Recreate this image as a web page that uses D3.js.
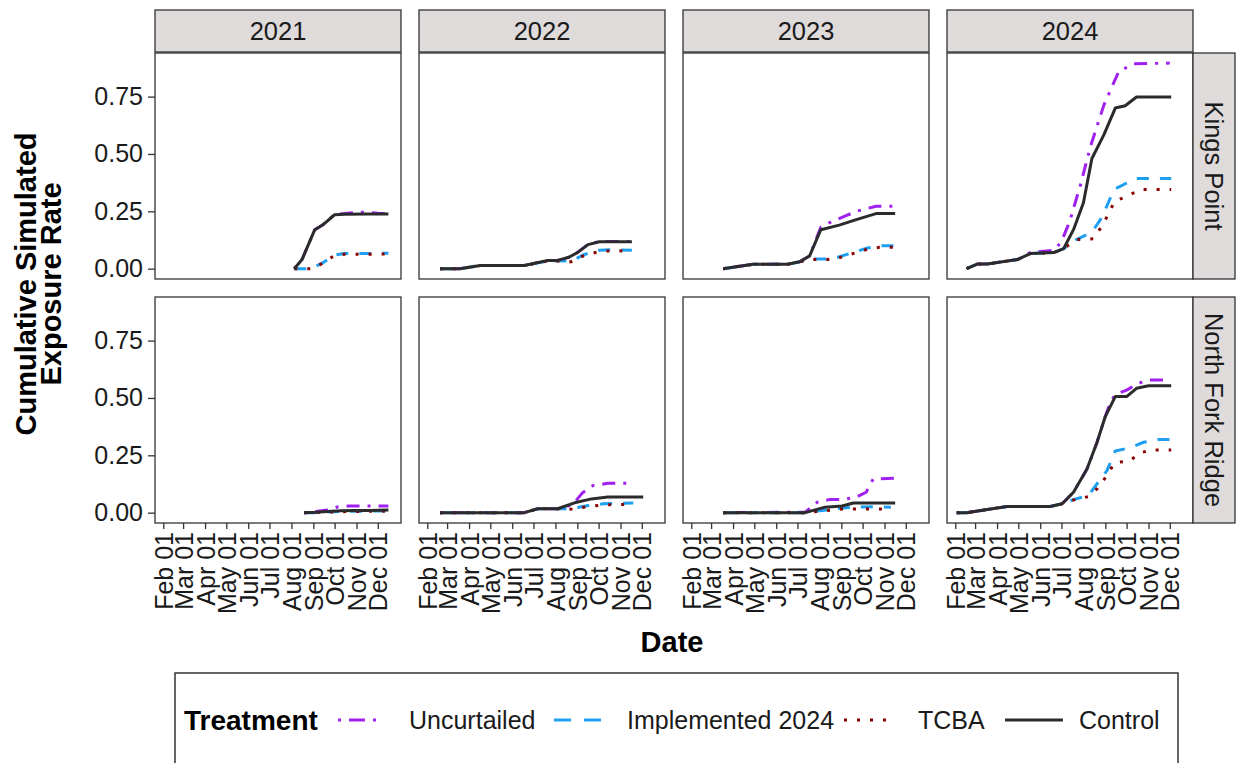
<!DOCTYPE html>
<html><head><meta charset="utf-8">
<script src="https://cdn.jsdelivr.net/npm/d3@7"></script>
<style>body{margin:0;background:#fff}svg{display:block;font-family:"Liberation Sans",Arial,sans-serif}</style>
</head><body><svg id="c" width="1238" height="763"></svg>
<script>
// ---- categories ----
const years = ["2021", "2022", "2023", "2024"];
const sites = ["Kings Point", "North Fork Ridge"];
const treatments = ["Uncurtailed", "Implemented 2024", "TCBA", "Control"];
const tickLabels = ["Feb 01","Mar 01","Apr 01","May 01","Jun 01","Jul 01","Aug 01","Sep 01","Oct 01","Nov 01","Dec 01"];
const yTicks = [0, 0.25, 0.5, 0.75];

// ---- series values [month-day, cumulative rate] ----
// Kings Point 2021
const kp2021Uncurtailed = [["08-05",0],["08-16",0.04],["09-03",0.17],["09-14",0.19],["10-01",0.237],["10-15",0.24],["11-01",0.245],["11-15",0.246],["12-01",0.242],["12-16",0.24]];
const kp2021Implemented = [["08-05",0],["08-29",0],["09-14",0.025],["10-01",0.06],["10-15",0.066],["11-15",0.066],["12-16",0.067]];
const kp2021TCBA        = [["08-05",0],["08-29",0],["09-14",0.023],["10-01",0.058],["10-15",0.063],["11-15",0.063],["12-16",0.064]];
const kp2021Control     = [["08-05",0],["08-16",0.04],["09-03",0.17],["09-14",0.19],["10-01",0.235],["10-15",0.237],["11-15",0.238],["12-16",0.238]];
// Kings Point 2022
const kp2022Uncurtailed = [["02-19",0],["03-19",0],["04-17",0.014],["06-18",0.014],["07-21",0.036],["08-04",0.036],["08-20",0.05],["09-01",0.07],["09-16",0.106],["10-02",0.118],["11-17",0.118]];
const kp2022Implemented = [["02-19",0],["03-19",0],["04-17",0.014],["06-18",0.014],["07-21",0.034],["08-04",0.034],["08-23",0.033],["09-11",0.062],["10-02",0.08],["10-20",0.083],["11-17",0.08]];
const kp2022TCBA        = [["02-19",0],["03-19",0],["04-17",0.014],["06-18",0.014],["07-21",0.033],["08-04",0.033],["08-23",0.03],["09-11",0.058],["10-02",0.075],["10-20",0.078],["11-17",0.077]];
const kp2022Control     = [["02-19",0],["03-19",0],["04-17",0.014],["06-18",0.014],["07-21",0.036],["08-04",0.036],["08-20",0.05],["09-01",0.07],["09-16",0.105],["10-02",0.117],["11-17",0.117]];
// Kings Point 2023
const kp2023Uncurtailed = [["03-18",0],["04-29",0.019],["06-17",0.019],["07-04",0.03],["07-18",0.055],["08-03",0.18],["08-15",0.2],["09-06",0.229],["09-22",0.25],["10-20",0.272],["11-16",0.272]];
const kp2023Implemented = [["03-18",0],["04-29",0.019],["06-17",0.019],["07-04",0.03],["07-20",0.042],["08-13",0.042],["08-27",0.05],["09-22",0.075],["10-08",0.09],["10-25",0.1],["11-16",0.1]];
const kp2023TCBA        = [["03-18",0],["04-29",0.019],["06-17",0.019],["07-04",0.03],["07-20",0.04],["08-13",0.04],["08-27",0.046],["09-22",0.07],["10-08",0.085],["10-25",0.093],["11-16",0.093]];
const kp2023Control     = [["03-18",0],["04-29",0.019],["06-17",0.019],["07-04",0.03],["07-18",0.055],["08-03",0.17],["08-29",0.19],["09-22",0.214],["10-20",0.24],["11-16",0.24]];
// Kings Point 2024
const kp2024Uncurtailed = [["02-17",0],["03-04",0.02],["03-18",0.02],["04-30",0.04],["05-18",0.07],["06-20",0.08],["06-30",0.113],["07-12",0.2],["07-28",0.367],["08-11",0.533],["08-30",0.714],["09-20",0.86],["10-11",0.893],["12-01",0.896]];
const kp2024Implemented = [["02-17",0],["03-04",0.02],["03-18",0.02],["04-30",0.04],["05-18",0.066],["06-20",0.07],["07-04",0.087],["07-22",0.127],["08-13",0.159],["08-25",0.214],["09-03",0.272],["09-13",0.345],["09-27",0.367],["10-15",0.393],["12-03",0.393]];
const kp2024TCBA        = [["02-17",0],["03-04",0.02],["03-18",0.02],["04-30",0.04],["05-18",0.066],["06-20",0.07],["07-04",0.087],["07-22",0.127],["08-15",0.13],["08-27",0.185],["09-05",0.236],["09-14",0.294],["10-02",0.316],["10-20",0.345],["12-03",0.345]];
const kp2024Control     = [["02-17",0],["03-04",0.02],["03-18",0.02],["04-30",0.04],["05-18",0.066],["06-20",0.07],["07-04",0.087],["07-18",0.17],["08-01",0.287],["08-13",0.48],["08-30",0.584],["09-15",0.70],["09-29",0.71],["10-15",0.748],["12-03",0.748]];
// North Fork Ridge 2021
const nf2021Uncurtailed = [["08-19",0],["09-05",0.005],["09-20",0.012],["10-05",0.025],["10-20",0.029],["11-20",0.029],["12-16",0.029]];
const nf2021Implemented = [["08-19",0],["09-05",0],["09-20",0.003],["10-20",0.006],["12-16",0.008]];
const nf2021TCBA        = [["08-19",0],["09-20",0.002],["10-20",0.005],["12-16",0.007]];
const nf2021Control     = [["08-19",0],["09-05",0.002],["09-20",0.005],["10-10",0.008],["10-30",0.01],["11-20",0.01],["12-16",0.012]];
// North Fork Ridge 2022
const nf2022Uncurtailed = [["02-19",0],["06-18",0],["07-07",0.017],["08-04",0.017],["08-20",0.03],["08-28",0.045],["09-08",0.086],["09-23",0.118],["10-14",0.128],["11-19",0.128]];
const nf2022Implemented = [["02-19",0],["06-18",0],["07-07",0.017],["08-04",0.017],["08-20",0.017],["09-17",0.031],["10-08",0.039],["11-19",0.042]];
const nf2022TCBA        = [["02-19",0],["06-18",0],["07-07",0.017],["08-04",0.017],["08-20",0.014],["09-17",0.027],["10-08",0.034],["11-19",0.036]];
const nf2022Control     = [["02-19",0],["06-18",0],["07-07",0.017],["08-04",0.017],["08-28",0.043],["09-21",0.06],["10-14",0.068],["12-03",0.068]];
// North Fork Ridge 2023
const nf2023Uncurtailed = [["03-18",0],["07-12",0.002],["07-29",0.046],["08-15",0.057],["09-02",0.057],["09-22",0.068],["10-06",0.089],["10-16",0.147],["11-16",0.15]];
const nf2023Implemented = [["03-18",0],["07-12",0],["08-01",0.008],["09-02",0.02],["09-22",0.024],["10-20",0.026],["11-10",0.024]];
const nf2023TCBA        = [["03-18",0],["07-12",0],["08-01",0.006],["09-02",0.016],["10-20",0.016],["11-10",0.016]];
const nf2023Control     = [["03-18",0],["07-12",0],["08-09",0.024],["09-02",0.029],["09-18",0.042],["11-16",0.042]];
// North Fork Ridge 2024
const nf2024Uncurtailed = [["02-03",0],["02-17",0],["04-15",0.027],["06-15",0.027],["07-02",0.039],["07-18",0.089],["08-06",0.19],["08-20",0.305],["09-01",0.42],["09-08",0.48],["09-15",0.515],["10-01",0.534],["10-17",0.563],["11-02",0.578],["12-01",0.578]];
const nf2024Implemented = [["02-03",0],["02-17",0],["04-15",0.027],["06-15",0.027],["07-02",0.039],["07-18",0.057],["08-08",0.075],["08-20",0.125],["09-03",0.182],["09-15",0.269],["10-06",0.283],["10-25",0.307],["11-15",0.319],["12-03",0.319]];
const nf2024TCBA        = [["02-03",0],["02-17",0],["04-15",0.027],["06-15",0.027],["07-02",0.039],["07-18",0.055],["08-08",0.07],["08-21",0.106],["09-03",0.161],["09-14",0.218],["10-05",0.225],["10-20",0.261],["11-05",0.273],["12-03",0.273]];
const nf2024Control     = [["02-03",0],["02-17",0],["04-15",0.027],["06-15",0.027],["07-02",0.039],["07-18",0.089],["08-06",0.19],["08-20",0.305],["09-01",0.42],["09-15",0.506],["10-01",0.506],["10-15",0.542],["11-01",0.553],["12-03",0.553]];

// ---- lookup built from the arrays ----
const seriesBy = {
  "Kings Point": {
    "2021": [kp2021Uncurtailed, kp2021Implemented, kp2021TCBA, kp2021Control],
    "2022": [kp2022Uncurtailed, kp2022Implemented, kp2022TCBA, kp2022Control],
    "2023": [kp2023Uncurtailed, kp2023Implemented, kp2023TCBA, kp2023Control],
    "2024": [kp2024Uncurtailed, kp2024Implemented, kp2024TCBA, kp2024Control]
  },
  "North Fork Ridge": {
    "2021": [nf2021Uncurtailed, nf2021Implemented, nf2021TCBA, nf2021Control],
    "2022": [nf2022Uncurtailed, nf2022Implemented, nf2022TCBA, nf2022Control],
    "2023": [nf2023Uncurtailed, nf2023Implemented, nf2023TCBA, nf2023Control],
    "2024": [nf2024Uncurtailed, nf2024Implemented, nf2024TCBA, nf2024Control]
  }
};

// ---- styles ----
const colors = {"Uncurtailed":"#A020F0","Implemented 2024":"#1E9FF0","TCBA":"#8B0000","Control":"#2B2B2B"};
const dashes = {"Uncurtailed":"3,8,13,8","Implemented 2024":"12,11","TCBA":"3,10","Control":null};
const keyDashes = {"Uncurtailed":"0,4,3,8,16,8,3,20","Implemented 2024":"0,5,17,13,17,10","TCBA":"0,4,3,10,3,10,3,10,3,20","Control":null};

const svg = d3.select("#c");
svg.append("rect").attr("width",1238).attr("height",763).attr("fill","#fff");

const panelLefts = [155, 419, 683, 947];
const panelW = 246;
const rowTops = [53, 297];
const panelH = 226;
const TICKF = 25, STRIPF = 25.5, TITLEF = 29;

const parse = s => new Date(Date.UTC(2021, +s.slice(0,2)-1, +s.slice(3,5)));
const x = d3.scaleUtc()
  .domain([new Date(Date.UTC(2021,0,20,7)), new Date(Date.UTC(2022,0,2,19))])
  .range([0, panelW]);
const y = d3.scaleLinear().domain([-0.045, 0.94]).range([panelH, 0]);
const tickDates = tickLabels.map((t,i)=>new Date(Date.UTC(2021, i+1, 1)));

sites.forEach((site, r) => {
  years.forEach((yr, c) => {
    const g = svg.append("g").attr("transform",`translate(${panelLefts[c]},${rowTops[r]})`);
    g.append("rect").attr("width",panelW).attr("height",panelH).attr("fill","#fff");
    const line = d3.line().x(d=>x(parse(d[0]))).y(d=>y(d[1]));
    seriesBy[site][yr].forEach((arr, k) => {
      const t = treatments[k];
      g.append("path").attr("d", line(arr)).attr("fill","none")
        .attr("stroke", colors[t]).attr("stroke-width", 3)
        .attr("stroke-dasharray", dashes[t]).attr("stroke-linejoin","round");
    });
    g.append("rect").attr("width",panelW).attr("height",panelH)
      .attr("fill","none").attr("stroke","#333").attr("stroke-width",1.3);
    if (c === 0) {
      const ya = g.append("g").call(d3.axisLeft(y).tickValues(yTicks).tickFormat(d3.format(".2f")).tickSize(7).tickPadding(5));
      ya.select(".domain").remove();
      ya.selectAll("line").attr("stroke","#333").attr("stroke-width",1.3);
      ya.selectAll("text").attr("font-size",TICKF).attr("fill","#1a1a1a").attr("font-family","Liberation Sans, Arial, sans-serif");
    }
    if (r === 1) {
      const xa = g.append("g").attr("transform",`translate(0,${panelH})`)
        .call(d3.axisBottom(x).tickValues(tickDates).tickFormat((d,i)=>tickLabels[i]).tickSize(6));
      xa.select(".domain").remove();
      xa.selectAll("line").attr("stroke","#333").attr("stroke-width",1.3);
      xa.selectAll("text").attr("font-size",TICKF).attr("fill","#1a1a1a")
        .attr("font-family","Liberation Sans, Arial, sans-serif")
        .attr("transform","rotate(-90)").attr("text-anchor","end")
        .attr("x",-9).attr("y",0).attr("dy","0.36em");
    }
    if (r === 0) {
      svg.append("rect").attr("x",panelLefts[c]).attr("y",10).attr("width",panelW).attr("height",42)
        .attr("fill","#DEDBDA").attr("stroke","#333").attr("stroke-width",1.3);
      svg.append("text").attr("x",panelLefts[c]+panelW/2).attr("y",31).attr("dy","0.36em")
        .attr("text-anchor","middle").attr("font-size",STRIPF).attr("fill","#1a1a1a").text(yr);
    }
  });
  svg.append("rect").attr("x",1193).attr("y",rowTops[r]).attr("width",42).attr("height",panelH)
    .attr("fill","#DEDBDA").attr("stroke","#333").attr("stroke-width",1.3);
  svg.append("text").attr("transform",`translate(1214,${rowTops[r]+panelH/2}) rotate(90)`)
    .attr("dy","0.36em").attr("text-anchor","middle").attr("font-size",STRIPF).attr("fill","#1a1a1a").text(site);
});

// axis titles
const yt = svg.append("text").attr("transform","translate(36,284) rotate(-90)")
  .attr("text-anchor","middle").attr("font-weight","bold").attr("font-size",TITLEF).attr("fill","#000");
yt.append("tspan").attr("x",0).attr("dy",0).text("Cumulative Simulated");
yt.append("tspan").attr("x",0).attr("dy",25).text("Exposure Rate");
svg.append("text").attr("x",672).attr("y",652).attr("text-anchor","middle")
  .attr("font-weight","bold").attr("font-size",TITLEF).attr("fill","#000").text("Date");

// legend
const lg = svg.append("g");
lg.append("rect").attr("x",175).attr("y",673).attr("width",1003).attr("height",110)
  .attr("fill","#fff").attr("stroke","#333").attr("stroke-width",1.5);
lg.append("text").attr("x",184).attr("y",730).attr("font-weight","bold").attr("font-size",28).attr("fill","#000").text("Treatment");
const keyX = [334, 549, 840, 1005];
const labX = [409, 627, 918, 1079];
treatments.forEach((t,i)=>{
  lg.append("line").attr("x1",keyX[i]).attr("x2",keyX[i]+58).attr("y1",720).attr("y2",720)
    .attr("stroke",colors[t]).attr("stroke-width",3).attr("stroke-dasharray",keyDashes[t]);
  lg.append("text").attr("x",labX[i]).attr("y",729).attr("font-size",TICKF).attr("fill","#1a1a1a").text(t);
});
</script></body></html>
